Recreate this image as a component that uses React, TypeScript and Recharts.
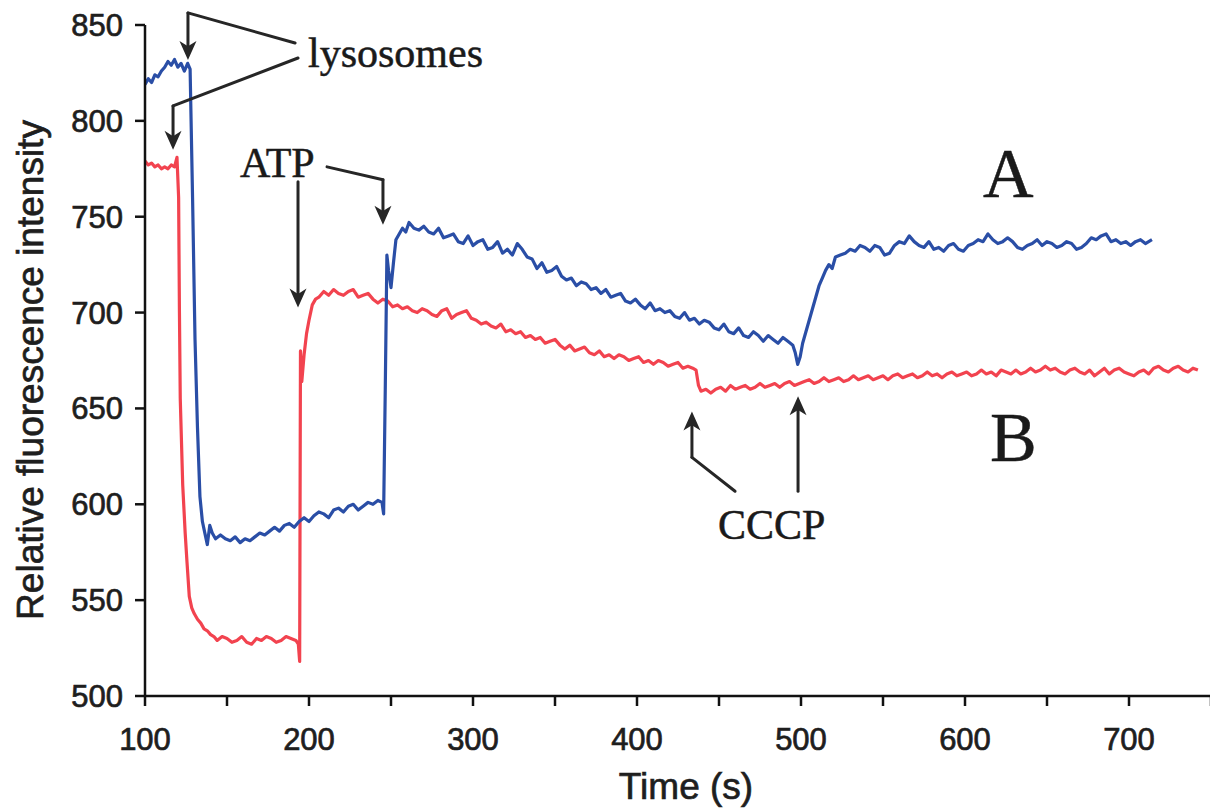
import { LineChart, Line, XAxis, YAxis, ReferenceLine, ReferenceDot, Label } from "recharts";

type Pt = [number, number];

// trace A (blue): [time s, fluorescence]
const blueTrace: Pt[] = [
  [100, 819], [102, 822], [104, 820], [106, 824], [108, 823], [110, 826], [112, 828], [114, 831],
  [116, 829], [118, 832], [120, 828], [122, 830], [124, 826], [126, 830], [127.5, 827],
  [129, 760], [130.5, 686], [132, 640], [133.5, 604], [135, 591], [136.5, 585], [138, 579],
  [139.5, 589], [141, 585], [143, 582],
  [146, 584], [149, 582], [152, 581], [155, 583], [158, 580], [161, 582], [164, 581], [167, 583],
  [170, 585], [173, 584], [176, 586], [179, 588], [182, 586], [185, 589], [188, 590], [191, 588],
  [194, 591], [197, 593], [200, 591], [203, 594], [206, 596], [209, 595], [212, 593], [215, 597],
  [218, 598], [221, 596], [224, 599], [227, 600], [230, 597], [233, 599], [236, 601], [239, 600],
  [242, 602], [244.5, 601], [245.5, 595],
  [246.5, 660], [247.5, 730], [248.5, 722], [250, 713], [251.5, 726], [253, 738], [255, 741],
  [257, 744], [259, 742], [261, 747], [264, 744], [267, 743], [270, 745], [273, 742], [276, 741],
  [279, 744], [282, 739], [285, 740], [288, 741], [291, 737], [294, 736], [297, 740], [300, 735],
  [303, 737], [306, 738], [309, 733], [312, 734], [315, 737], [318, 731], [321, 733], [324, 730],
  [327, 736], [330, 733], [333, 729], [336, 728], [339, 723], [342, 726], [345, 721], [348, 722],
  [351, 724], [354, 719], [357, 717], [360, 718], [363, 714], [366, 716], [369, 715], [372, 712],
  [375, 713], [378, 710], [381, 712], [384, 708], [387, 709], [390, 710], [393, 706], [396, 705],
  [399, 707], [402, 704], [405, 702], [408, 705], [411, 701], [414, 702], [417, 700], [420, 701],
  [423, 698], [426, 697], [429, 700], [432, 696], [435, 697], [438, 694], [441, 696], [444, 695],
  [447, 692], [450, 691], [453, 694], [456, 690], [459, 689], [462, 692], [465, 688], [468, 687],
  [471, 690], [474, 688], [477, 685], [480, 688], [483, 686], [486, 684], [489, 687], [492, 685],
  [495, 683], [496.5, 679], [498, 673], [499.5, 677],
  [501, 684], [503, 690], [505, 696], [507, 702], [509, 708], [511, 714], [513, 718], [515, 722],
  [517, 725], [519, 723], [521, 729], [524, 730], [527, 731], [530, 733], [533, 732], [536, 735],
  [539, 734], [542, 732], [545, 735], [548, 734], [551, 730], [554, 731], [557, 735], [560, 737],
  [563, 736], [566, 740], [569, 737], [572, 735], [575, 734], [578, 737], [581, 733], [584, 734],
  [587, 732], [590, 735], [593, 736], [596, 733], [599, 732], [602, 735], [605, 736], [608, 738],
  [611, 737], [614, 741], [617, 738], [620, 736], [623, 737], [626, 739], [629, 737], [632, 734],
  [635, 733], [638, 735], [641, 736], [644, 738], [647, 735], [650, 737], [653, 736], [656, 734],
  [659, 735], [662, 737], [665, 736], [668, 733], [671, 734], [674, 736], [677, 739], [680, 738],
  [683, 740], [686, 741], [689, 737], [692, 738], [695, 736], [698, 737], [701, 735], [704, 737],
  [707, 738], [710, 736], [714, 738],
];

// trace B (red)
const redTrace: Pt[] = [
  [100, 779], [102, 777], [104, 778], [106, 776], [108, 777], [110, 775], [112, 776], [114, 775],
  [116, 777], [118, 776], [119.5, 781], [120.5, 760], [121, 700], [121.5, 655], [123, 610],
  [124.5, 585], [125.6, 570], [127, 552], [128.5, 546], [130, 543], [132, 540], [134, 538],
  [136, 535], [138, 534], [140, 532], [142, 531],
  [144, 529], [147, 531], [150, 530], [153, 528], [156, 529], [159, 531], [162, 528], [165, 527],
  [168, 530], [171, 529], [174, 531], [177, 530], [180, 528], [183, 529], [186, 531], [189, 530],
  [192, 529], [193.5, 527], [194.3, 518],
  [194.8, 680], [195.6, 664], [197, 678], [198.5, 689], [200, 696], [202, 704], [204, 707],
  [206, 708], [209, 711], [212, 709], [215, 712], [218, 710], [221, 709], [224, 711], [227, 712],
  [230, 708], [233, 709], [236, 710], [239, 707], [242, 705], [245, 707], [248, 706], [251, 703],
  [254, 704], [257, 702], [260, 703], [263, 701], [266, 700], [269, 702], [272, 701], [275, 699],
  [278, 698], [281, 701], [284, 702], [287, 697], [290, 699], [293, 700], [296, 701], [299, 697],
  [302, 696], [305, 694], [308, 695], [311, 693], [314, 692], [317, 694], [320, 690], [323, 691],
  [326, 689], [329, 690], [332, 687], [335, 688], [338, 686], [341, 687], [344, 684], [347, 685],
  [350, 686], [353, 683], [356, 681], [359, 683], [362, 680], [365, 681], [368, 682], [371, 679],
  [374, 678], [377, 680], [380, 677], [383, 678], [386, 676], [389, 678], [392, 677], [395, 675],
  [398, 676], [401, 677], [404, 674], [407, 675], [410, 673], [413, 675], [416, 674], [419, 672],
  [422, 673], [425, 674], [428, 671], [431, 672], [434, 671], [436, 670], [437.5, 662],
  [439, 659], [442, 660], [445, 658], [448, 660], [451, 661], [454, 659], [457, 662], [460, 660],
  [463, 661], [466, 662], [469, 660], [472, 661], [475, 663], [478, 661], [481, 662], [484, 663],
  [487, 661], [490, 663], [493, 664], [496, 662], [499, 663], [502, 664], [505, 665], [508, 663],
  [511, 664], [514, 666], [517, 664], [520, 665], [523, 666], [526, 664], [529, 665], [532, 667],
  [535, 665], [538, 666], [541, 667], [544, 665], [547, 666], [550, 667], [553, 665], [556, 667],
  [559, 668], [562, 666], [565, 667], [568, 668], [571, 666], [574, 667], [577, 669], [580, 667],
  [583, 668], [586, 666], [589, 668], [592, 669], [595, 667], [598, 668], [601, 669], [604, 667],
  [607, 668], [610, 670], [613, 668], [616, 669], [619, 667], [622, 670], [625, 669], [628, 668],
  [631, 670], [634, 668], [637, 669], [640, 671], [643, 669], [646, 670], [649, 672], [652, 670],
  [655, 671], [658, 669], [661, 668], [664, 670], [667, 671], [670, 669], [673, 668], [676, 670],
  [679, 667], [682, 669], [685, 671], [688, 668], [691, 670], [694, 671], [697, 669], [700, 668],
  [703, 667], [706, 669], [709, 670], [712, 668], [715, 671], [718, 672], [721, 670], [724, 669],
  [727, 671], [730, 672], [733, 670], [736, 669], [739, 671], [742, 670],
];

const xTicks = [100, 150, 200, 250, 300, 350, 400, 450, 500, 550, 600, 650, 700, 750];
const yTicks = [500, 550, 600, 650, 700, 750, 800, 850];

// annotation arrows as polylines in data coords, head on the last point
const arrows: Pt[][] = [
  [[191.5, 840.6], [126.2, 856.3], [126.2, 831.8]],
  [[193.3, 832.8], [117.1, 807.8], [117.1, 784.9]],
  [[193.3, 768.2], [193.3, 702.6]],
  [[211, 776], [245.1, 769.3], [245.1, 745.8]],
  [[459.8, 606.8], [433.5, 624.5], [433.5, 648.4]],
  [[498.2, 606.8], [498.2, 656.3]],
];

// annotation texts, anchored at left baseline
const noteText = ["lysosomes", "ATP", "A", "B", "CCCP"];
const noteAt: Pt[] = [[199.4, 828.1], [157.9, 770.8], [611, 760.4], [615.2, 622.4], [449.4, 581.8]];
const noteBig = [false, false, true, true, false];

const sans = "'Liberation Sans', Arial, Helvetica, sans-serif";
const serif = "'Liberation Serif', 'Times New Roman', Times, serif";
const ink = "#1e1e1e";

const toRows = (pts: Pt[]) => pts.map(([t, v]) => ({ t, v }));

function Segment(props: any) {
  const { x1, y1, x2, y2, head } = props;
  if (!head) {
    return <line x1={x1} y1={y1} x2={x2} y2={y2} stroke="#262626" strokeWidth={3} strokeLinecap="round" />;
  }
  const dx = x2 - x1;
  const dy = y2 - y1;
  const len = Math.hypot(dx, dy) || 1;
  const ux = dx / len;
  const uy = dy / len;
  const L = 19;
  const W = 8.5;
  const bx = x2 - ux * L;
  const by = y2 - uy * L;
  const nx = x2 - ux * L * 0.72;
  const ny = y2 - uy * L * 0.72;
  const pts = [
    `${x2},${y2}`,
    `${bx - uy * W},${by + ux * W}`,
    `${nx},${ny}`,
    `${bx + uy * W},${by - ux * W}`,
  ].join(" ");
  return (
    <g>
      <line x1={x1} y1={y1} x2={nx} y2={ny} stroke="#262626" strokeWidth={3} strokeLinecap="round" />
      <polygon points={pts} fill="#262626" />
    </g>
  );
}

export default function App() {
  return (
    <div style={{ position: "absolute", left: 0, top: 0, width: 1210, height: 811, overflow: "hidden", background: "#fff" }}>
      <LineChart width={1213} height={811} margin={{ top: 25, right: 2, bottom: 0, left: 0 }}>
        <XAxis
          dataKey="t"
          type="number"
          domain={[100, 750]}
          ticks={xTicks}
          allowDataOverflow
          height={115}
          tickSize={10}
          tickMargin={22}
          tickFormatter={(v: number) => (v % 100 === 0 ? String(v) : "")}
          tick={{ fontSize: 31, fill: ink, fontFamily: sans, stroke: ink, strokeWidth: 0.7 }}
          axisLine={{ stroke: "#111", strokeWidth: 2.5 }}
          tickLine={{ stroke: "#111", strokeWidth: 2.5 }}
        >
          <Label
            content={() => (
              <text x={686} y={799} textAnchor="middle" fontSize={37} fill={ink} stroke={ink} strokeWidth={0.7} fontFamily={sans}>
                Time (s)
              </text>
            )}
          />
        </XAxis>
        <YAxis
          type="number"
          domain={[500, 850]}
          ticks={yTicks}
          allowDataOverflow
          width={145}
          tickSize={10}
          tickMargin={12}
          tick={{ fontSize: 31, fill: ink, fontFamily: sans, stroke: ink, strokeWidth: 0.7 }}
          axisLine={{ stroke: "#111", strokeWidth: 2.5 }}
          tickLine={{ stroke: "#111", strokeWidth: 2.5 }}
        >
          <Label
            content={() => (
              <text
                x={0}
                y={0}
                transform="translate(43,370) rotate(-90)"
                textAnchor="middle"
                fontSize={37}
                fill={ink}
                stroke={ink}
                strokeWidth={0.7}
                fontFamily={sans}
              >
                Relative fluorescence intensity
              </text>
            )}
          />
        </YAxis>
        <Line
          data={toRows(redTrace)}
          dataKey="v"
          type="linear"
          stroke="#f2434f"
          strokeWidth={3.2}
          strokeLinejoin="round"
          dot={false}
          activeDot={false}
          isAnimationActive={false}
        />
        <Line
          data={toRows(blueTrace)}
          dataKey="v"
          type="linear"
          stroke="#2a4ea6"
          strokeWidth={3.2}
          strokeLinejoin="round"
          dot={false}
          activeDot={false}
          isAnimationActive={false}
        />
        {arrows.flatMap((poly, ai) =>
          poly.slice(1).map((end, si) => {
            const start = poly[si];
            const isLast = si === poly.length - 2;
            return (
              <ReferenceLine
                key={`a${ai}-${si}`}
                segment={[{ x: start[0], y: start[1] }, { x: end[0], y: end[1] }]}
                ifOverflow="visible"
                shape={(p: any) => <Segment {...p} head={isLast} />}
              />
            );
          })
        )}
        {noteText.map((txt, i) => (
          <ReferenceDot
            key={txt}
            x={noteAt[i][0]}
            y={noteAt[i][1]}
            ifOverflow="visible"
            shape={(p: any) => (
              <text
                x={p.cx}
                y={p.cy}
                fontSize={noteBig[i] ? 70 : 42}
                fill="#1a1a1a"
                stroke="#1a1a1a"
                strokeWidth={0.5}
                fontFamily={serif}
              >
                {txt}
              </text>
            )}
          />
        ))}
      </LineChart>
    </div>
  );
}
